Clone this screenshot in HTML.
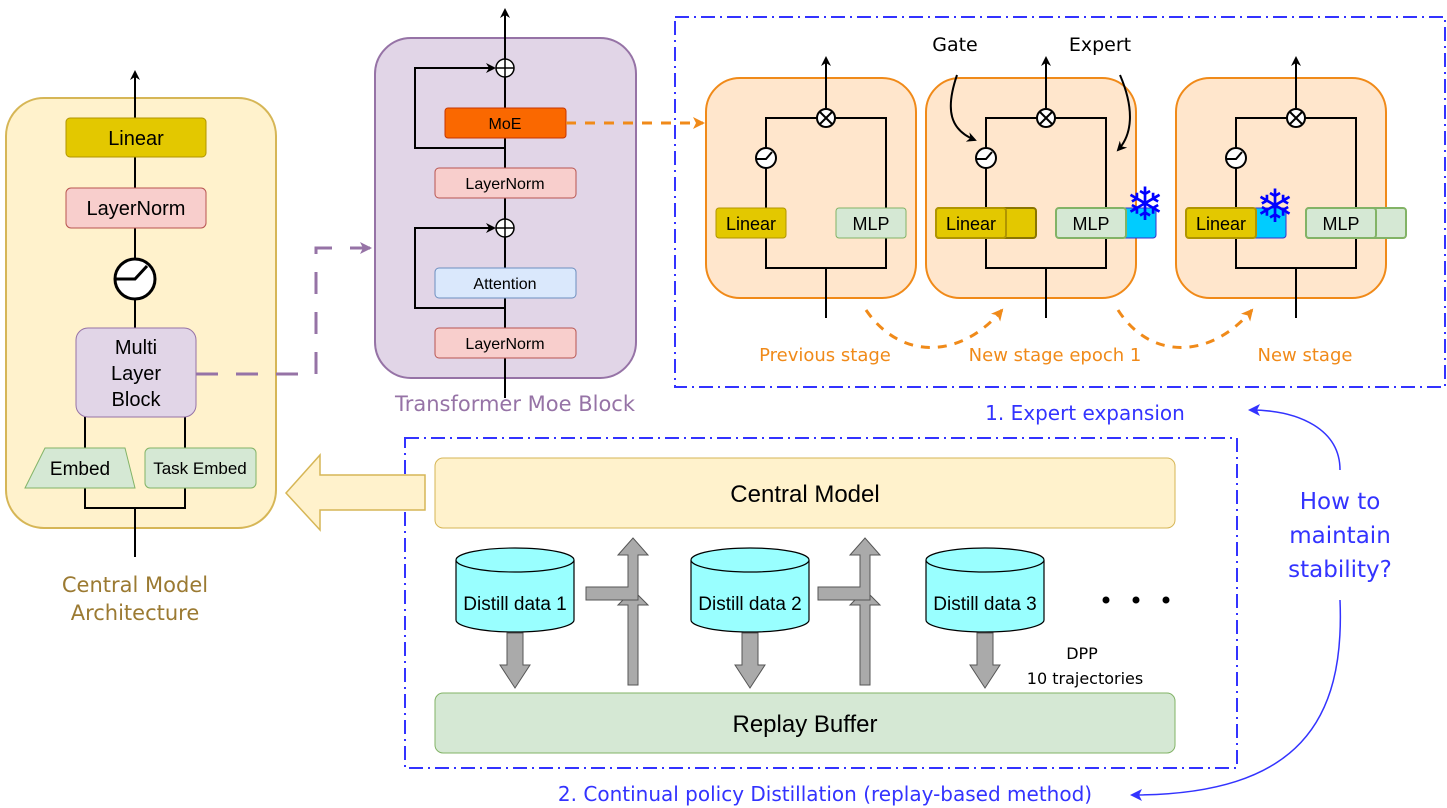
<!DOCTYPE html>
<html><head><meta charset="utf-8"><style>
html,body{margin:0;padding:0;background:#fff;}
svg{display:block;}
text{font-family:"Liberation Sans",sans-serif;}
.h{font-family:"DejaVu Sans",sans-serif;}
</style></head><body>
<svg width="1447" height="808" viewBox="0 0 1447 808" xmlns="http://www.w3.org/2000/svg">
<defs>
<marker id="ab" markerWidth="10" markerHeight="10" refX="8" refY="5" orient="auto" markerUnits="userSpaceOnUse"><path d="M0,0 L10,5 L0,10 L3,5 Z" fill="#000"/></marker>
<marker id="ao" markerWidth="12" markerHeight="12" refX="10" refY="6" orient="auto" markerUnits="userSpaceOnUse"><path d="M0,0 L12,6 L0,12 L3,6 Z" fill="#f08a19"/></marker>
<marker id="ap" markerWidth="12" markerHeight="12" refX="10" refY="6" orient="auto" markerUnits="userSpaceOnUse"><path d="M0,0 L12,6 L0,12 L3,6 Z" fill="#9673a6"/></marker>
<marker id="abl" markerWidth="12" markerHeight="12" refX="10" refY="6" orient="auto" markerUnits="userSpaceOnUse"><path d="M0,0 L12,6 L0,12 L3,6 Z" fill="#3333ff"/></marker>
</defs>

<!-- Left panel -->
<rect x="6" y="98" width="270" height="430" rx="38" fill="#fff2cc" stroke="#d6b656" stroke-width="2"/>
<line x1="135" y1="557" x2="135" y2="508" stroke="#000" stroke-width="2"/>
<polyline points="85,488 85,508 185,508 185,488" fill="none" stroke="#000" stroke-width="2"/>
<polyline points="85,448 85,417" fill="none" stroke="#000" stroke-width="2"/>
<polyline points="185,448 185,417" fill="none" stroke="#000" stroke-width="2"/>
<line x1="135" y1="328" x2="135" y2="299" stroke="#000" stroke-width="2"/>
<line x1="135" y1="259" x2="135" y2="228" stroke="#000" stroke-width="2"/>
<line x1="135" y1="188" x2="135" y2="157" stroke="#000" stroke-width="2"/>
<line x1="135" y1="118" x2="135" y2="72" stroke="#000" stroke-width="2" marker-end="url(#ab)"/>
<rect x="66" y="118" width="140" height="39" rx="4" fill="#e3c800" stroke="#b09500"/>
<text x="136" y="145" font-size="20" text-anchor="middle">Linear</text>
<rect x="66" y="188" width="140" height="40" rx="5" fill="#f8cecc" stroke="#b85450"/>
<text x="136" y="215" font-size="20" text-anchor="middle">LayerNorm</text>
<circle cx="135" cy="279" r="20" fill="#fff" stroke="#000" stroke-width="3"/>
<polyline points="115,279 135,279 147,266" fill="none" stroke="#000" stroke-width="3"/>
<rect x="76" y="328" width="120" height="89" rx="12" fill="#e1d5e7" stroke="#9673a6"/>
<text x="136" y="354" font-size="20" text-anchor="middle">Multi</text>
<text x="136" y="380" font-size="20" text-anchor="middle">Layer</text>
<text x="136" y="406" font-size="20" text-anchor="middle">Block</text>
<polygon points="45,448 125,448 135,488 25,488" fill="#d5e8d4" stroke="#82b366"/>
<text x="80" y="475" font-size="19" text-anchor="middle">Embed</text>
<rect x="145" y="448" width="111" height="40" rx="5" fill="#d5e8d4" stroke="#82b366"/>
<text x="200" y="474" font-size="17" text-anchor="middle">Task Embed</text>
<text class="h" x="135" y="592" font-size="21" fill="#9b7a32" text-anchor="middle">Central Model</text>
<text class="h" x="135" y="620" font-size="21" fill="#9b7a32" text-anchor="middle">Architecture</text>

<!-- purple dashed -->
<polyline points="196,374 316,374 316,248 370,248" fill="none" stroke="#9673a6" stroke-width="3" stroke-dasharray="22,18" marker-end="url(#ap)"/>

<!-- Transformer block -->
<rect x="375" y="38" width="261" height="340" rx="36" fill="#e1d5e7" stroke="#9673a6" stroke-width="2"/>
<line x1="505" y1="398" x2="505" y2="10" stroke="#000" stroke-width="2" marker-end="url(#ab)"/>
<polyline points="505,308 415,308 415,228 494,228" fill="none" stroke="#000" stroke-width="2" marker-end="url(#ab)"/>
<polyline points="505,148 415,148 415,68 494,68" fill="none" stroke="#000" stroke-width="2" marker-end="url(#ab)"/>
<rect x="435" y="328" width="141" height="30" rx="4" fill="#f8cecc" stroke="#b85450"/>
<text x="505" y="349" font-size="16" text-anchor="middle">LayerNorm</text>
<rect x="435" y="268" width="141" height="30" rx="4" fill="#dae8fc" stroke="#6c8ebf"/>
<text x="505" y="289" font-size="16" text-anchor="middle">Attention</text>
<circle cx="505" cy="228" r="9" fill="#fff" stroke="#000" stroke-width="1.5"/>
<path d="M496,228 H514 M505,219 V237" stroke="#000" stroke-width="1.5"/>
<rect x="435" y="168" width="141" height="30" rx="4" fill="#f8cecc" stroke="#b85450"/>
<text x="505" y="189" font-size="16" text-anchor="middle">LayerNorm</text>
<rect x="445" y="108" width="121" height="30" rx="3" fill="#fa6800" stroke="#c73500"/>
<text x="505" y="129" font-size="16" text-anchor="middle">MoE</text>
<circle cx="505" cy="68" r="9" fill="#fff" stroke="#000" stroke-width="1.5"/>
<path d="M496,68 H514 M505,59 V77" stroke="#000" stroke-width="1.5"/>
<text class="h" x="515" y="411" font-size="21" fill="#9673a6" text-anchor="middle">Transformer Moe Block</text>

<line x1="566" y1="123" x2="703" y2="123" stroke="#f08a19" stroke-width="3" stroke-dasharray="10,9" marker-end="url(#ao)"/>

<!-- Expert expansion box -->
<rect x="675" y="17" width="770" height="370" fill="none" stroke="#3333ff" stroke-width="2" stroke-dasharray="14,5,2,5"/>

<g id="p1">
<rect x="706" y="78" width="210" height="220" rx="34" fill="#ffe6cc" stroke="#f08a19" stroke-width="2"/>
<polyline points="766,208 766,118 886,118 886,208" fill="none" stroke="#000" stroke-width="2"/>
<polyline points="766,238 766,268 886,268 886,238" fill="none" stroke="#000" stroke-width="2"/>
<line x1="826" y1="268" x2="826" y2="318" stroke="#000" stroke-width="2"/>
<line x1="826" y1="118" x2="826" y2="58" stroke="#000" stroke-width="2" marker-end="url(#ab)"/>
<circle cx="826" cy="118" r="9" fill="#fff" stroke="#000" stroke-width="2"/>
<path d="M820,112 L832,124 M832,112 L820,124" stroke="#000" stroke-width="2"/>
<circle cx="766" cy="158" r="10" fill="#fff" stroke="#000" stroke-width="2"/>
<polyline points="756,159 766,159 772,152" fill="none" stroke="#000" stroke-width="2"/>
</g>
<rect x="716" y="208" width="70" height="30" rx="3" fill="#e3c800" stroke="#b09500"/>
<text x="751" y="230" font-size="18" text-anchor="middle">Linear</text>
<rect x="836" y="208" width="70" height="30" rx="3" fill="#d5e8d4" stroke="#82b366"/>
<text x="871" y="230" font-size="18" text-anchor="middle">MLP</text>

<use href="#p1" x="220"/>
<rect x="936" y="208" width="100" height="30" rx="3" fill="#e3c800" stroke="#8a7500" stroke-width="2"/>
<rect x="936" y="208" width="70" height="30" rx="3" fill="#e3c800" stroke="#b09500" stroke-width="2"/>
<text x="971" y="230" font-size="18" text-anchor="middle">Linear</text>
<rect x="1056" y="208" width="100" height="30" rx="3" fill="#00ccff" stroke="#3333cc"/>
<rect x="1056" y="208" width="70" height="30" rx="3" fill="#d5e8d4" stroke="#82b366" stroke-width="2"/>
<text x="1091" y="230" font-size="18" text-anchor="middle">MLP</text>
<text x="1145" y="220" font-size="46" fill="#0000ff" text-anchor="middle">❄</text>

<use href="#p1" x="470"/>
<rect x="1186" y="208" width="100" height="30" rx="3" fill="#00ccff" stroke="#3333cc"/>
<rect x="1186" y="208" width="70" height="30" rx="3" fill="#e3c800" stroke="#b09500" stroke-width="2"/>
<text x="1221" y="230" font-size="18" text-anchor="middle">Linear</text>
<rect x="1306" y="208" width="100" height="30" rx="3" fill="#d5e8d4" stroke="#82b366" stroke-width="2"/>
<rect x="1306" y="208" width="70" height="30" rx="3" fill="#d5e8d4" stroke="#82b366" stroke-width="2"/>
<text x="1341" y="230" font-size="18" text-anchor="middle">MLP</text>
<text x="1275" y="222" font-size="46" fill="#0000ff" text-anchor="middle">❄</text>

<text class="h" x="955" y="51" font-size="19" text-anchor="middle">Gate</text>
<text class="h" x="1100" y="51" font-size="19" text-anchor="middle">Expert</text>
<path d="M957,75 C945,110 950,130 975,140" fill="none" stroke="#000" stroke-width="2" marker-end="url(#ab)"/>
<path d="M1120,75 C1135,110 1132,135 1118,150" fill="none" stroke="#000" stroke-width="2" marker-end="url(#ab)"/>

<path d="M866,310 C900,360 960,360 1002,310" fill="none" stroke="#f08a19" stroke-width="3" stroke-dasharray="9,8" marker-end="url(#ao)"/>
<path d="M1118,310 C1150,360 1210,360 1252,310" fill="none" stroke="#f08a19" stroke-width="3" stroke-dasharray="9,8" marker-end="url(#ao)"/>
<text class="h" x="825" y="361" font-size="18" fill="#f08a19" text-anchor="middle">Previous stage</text>
<text class="h" x="1055" y="361" font-size="18" fill="#f08a19" text-anchor="middle">New stage epoch 1</text>
<text class="h" x="1305" y="361" font-size="18" fill="#f08a19" text-anchor="middle">New stage</text>
<text class="h" x="1085" y="420" font-size="20" fill="#3333ff" text-anchor="middle">1. Expert expansion</text>

<!-- lower box -->
<rect x="405" y="438" width="832" height="330" fill="none" stroke="#3333ff" stroke-width="2" stroke-dasharray="14,5,2,5"/>
<polygon points="425,475 320,475 320,455 286,493 320,530 320,510 425,510" fill="#fff2cc" stroke="#d6b656" stroke-width="1.5"/>
<rect x="435" y="458" width="740" height="70" rx="8" fill="#fff2cc" stroke="#d6b656"/>
<text x="805" y="502" font-size="24" text-anchor="middle">Central Model</text>
<rect x="435" y="693" width="740" height="60" rx="8" fill="#d5e8d4" stroke="#82b366"/>
<text x="805" y="732" font-size="24" text-anchor="middle">Replay Buffer</text>

<g id="cyl">
<path d="M456,560 V620 A59,12 0 0 0 574,620 V560" fill="#99ffff" stroke="#000" stroke-width="1.2"/>
<ellipse cx="515" cy="560" rx="59" ry="12" fill="#99ffff" stroke="#000" stroke-width="1.2"/>
<polygon points="507,633 523,633 523,665 530,665 515,688 500,665 507,665" fill="#aaa" stroke="#555"/>
</g>
<text x="515" y="610" font-size="19" text-anchor="middle">Distill data 1</text>
<use href="#cyl" x="235"/>
<text x="750" y="610" font-size="19" text-anchor="middle">Distill data 2</text>
<use href="#cyl" x="470"/>
<text x="985" y="610" font-size="19" text-anchor="middle">Distill data 3</text>

<g id="up">
<polygon points="628,685 638,685 638,605 648,605 633,590 618,605 628,605" fill="#aaa" stroke="#555"/>
<polygon points="586,587 628,587 628,555 618,555 633,538 648,555 638,555 638,600 586,600" fill="#aaa" stroke="#555"/>
</g>
<use href="#up" x="232"/>

<circle cx="1106" cy="600" r="3.5" fill="#000"/>
<circle cx="1136" cy="600" r="3.5" fill="#000"/>
<circle cx="1166" cy="600" r="3.5" fill="#000"/>
<text class="h" x="1082" y="659" font-size="16" text-anchor="middle">DPP</text>
<text class="h" x="1085" y="684" font-size="16" text-anchor="middle">10 trajectories</text>

<text class="h" x="1340" y="509" font-size="23" fill="#3333ff" text-anchor="middle">How to</text>
<text class="h" x="1340" y="543" font-size="23" fill="#3333ff" text-anchor="middle">maintain</text>
<text class="h" x="1340" y="577" font-size="23" fill="#3333ff" text-anchor="middle">stability?</text>
<path d="M1340,470 C1340,430 1300,410 1250,410" fill="none" stroke="#3333ff" stroke-width="1.5" marker-end="url(#abl)"/>
<path d="M1340,600 C1345,720 1300,795 1132,795" fill="none" stroke="#3333ff" stroke-width="1.5" marker-end="url(#abl)"/>
<text class="h" x="825" y="801" font-size="20" fill="#3333ff" text-anchor="middle">2. Continual policy Distillation (replay-based method)</text>
</svg>
</body></html>
